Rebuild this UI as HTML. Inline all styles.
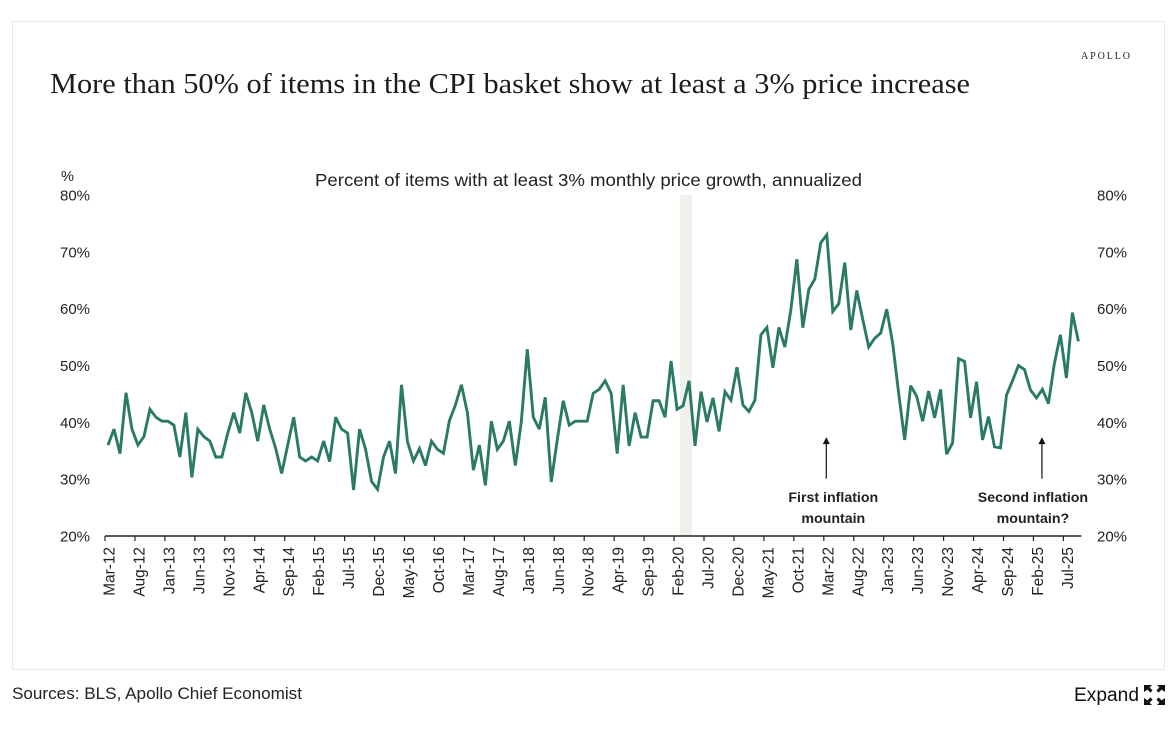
<!DOCTYPE html>
<html lang="en">
<head>
<meta charset="utf-8">
<title>More than 50% of items in the CPI basket show at least a 3% price increase</title>
<style>
html,body{margin:0;padding:0;background:#fff;width:1173px;height:730px;overflow:hidden}
svg{display:block}
text{font-family:"Liberation Sans",sans-serif;fill:#222}
.serif{font-family:"Liberation Serif",serif}
</style>
</head>
<body>
<svg id="chart" width="1173" height="730" viewBox="0 0 1173 730" xmlns="http://www.w3.org/2000/svg">
  <rect x="12.5" y="21.5" width="1152" height="648" fill="#fff" stroke="#e9e9e9"/>
  <text class="serif" x="50" y="93" font-size="29" textLength="920" lengthAdjust="spacingAndGlyphs" style="fill:#1c1c1c">More than 50% of items in the CPI basket show at least a 3% price increase</text>
  <text class="serif" x="1081" y="59" font-size="10" textLength="49" style="fill:#222">APOLLO</text>
  <text x="315" y="186" font-size="17.5" textLength="547" lengthAdjust="spacingAndGlyphs">Percent of items with at least 3% monthly price growth, annualized</text>
  <text x="61" y="181" font-size="14.5">%</text>
  <g id="plot"></g>
  <text x="12" y="699" font-size="16.5" textLength="290" lengthAdjust="spacingAndGlyphs">Sources: BLS, Apollo Chief Economist</text>
  <g style="cursor:pointer">
    <text x="1074" y="701" font-size="19" textLength="65" lengthAdjust="spacingAndGlyphs" style="fill:#111">Expand</text>
    <g fill="#111">
      <path d="M1144 685h8l-2.4 2.4 3 3-2.2 2.2-3-3-3.4 2.4z"/>
      <path d="M1165 685h-8l2.4 2.4-3 3 2.2 2.2 3-3 3.4 2.4z"/>
      <path d="M1144 705h8l-2.4-2.4 3-3-2.2-2.2-3 3-3.4-2.4z"/>
      <path d="M1165 705h-8l2.4-2.4-3-3 2.2-2.2 3 3 3.4-2.4z"/>
    </g>
  </g>
</svg>
<script>
const tickLabels = ["Mar-12","Aug-12","Jan-13","Jun-13","Nov-13","Apr-14","Sep-14","Feb-15","Jul-15","Dec-15","May-16","Oct-16","Mar-17","Aug-17","Jan-18","Jun-18","Nov-18","Apr-19","Sep-19","Feb-20","Jul-20","Dec-20","May-21","Oct-21","Mar-22","Aug-22","Jan-23","Jun-23","Nov-23","Apr-24","Sep-24","Feb-25","Jul-25"];
const yTicks = [20,30,40,50,60,70,80];
const seriesValues = [
36.0,38.8,34.5,45.2,38.8,36.0,37.5,42.3,40.9,40.2,40.2,39.5,33.9,41.7,30.3,38.8,37.5,36.7,33.9,33.9,
38.1,41.7,38.1,45.2,41.7,36.7,43.05,38.8,35.4,31.0,36.0,40.9,33.9,33.2,33.9,33.2,36.7,33.1,40.9,38.8,
38.1,28.1,38.8,35.25,29.6,28.2,33.9,36.7,31.0,46.6,36.55,33.2,35.4,32.4,36.7,35.25,34.55,40.3,43.05,46.6,
41.7,31.6,36.0,28.9,40.2,35.25,36.7,40.2,32.4,40.1,52.85,40.9,38.8,44.4,29.5,36.9,43.8,39.5,40.2,40.2,
40.2,45.1,45.8,47.3,45.1,34.5,46.6,35.85,41.7,37.4,37.4,43.8,43.8,40.9,50.8,42.3,42.9,47.3,35.85,45.4,
40.06,44.3,38.4,45.4,43.9,49.7,43.05,41.9,43.9,55.4,56.7,49.6,56.7,53.25,59.8,68.7,56.65,63.4,65.2,71.6,
73.0,59.5,60.9,68.1,56.25,63.2,58.1,53.25,54.8,55.7,59.9,53.9,45.1,36.9,46.45,44.6,40.2,45.5,40.8,45.8,
34.4,36.4,51.2,50.7,40.8,47.15,36.9,41.0,35.7,35.5,44.8,47.3,50.0,49.3,45.7,44.3,45.8,43.3,50.4,55.4,
47.8,59.3,54.25];
const tickEvery = 5;
const bandMonths = [96,98];
const annotationOne = {lines:["First inflation","mountain"], month:120, tip:37.4, base:30.1};
const annotationTwo = {lines:["Second inflation","mountain?"], month:156, tip:37.4, base:30.1};

const NS = "http://www.w3.org/2000/svg";
const plot = document.getElementById("plot");
const monthW = 5.99;
const xEdge = m => 105 + m * monthW;
const xMid = m => 108 + m * monthW;
const yVal = v => 536 - (v - 20) * (341 / 60);
function mk(tag, attrs, parent){
  const el = document.createElementNS(NS, tag);
  for (const k in attrs) el.setAttribute(k, attrs[k]);
  (parent || plot).appendChild(el);
  return el;
}

const band = mk("rect",{x:xEdge(bandMonths[0]),y:yVal(80),width:xEdge(bandMonths[1])-xEdge(bandMonths[0]),height:yVal(20)-yVal(80),fill:"#f1f1ec"});



yTicks.forEach(v => {
  const left = mk("text",{x:60,y:yVal(v)+5.5,"font-size":15});
  left.textContent = v + "%";
  
  
  const right = mk("text",{x:1097,y:yVal(v)+5.5,"font-size":15});
  right.textContent = v + "%";
  
  
});

const axis = mk("line",{x1:xEdge(0),x2:xEdge(seriesValues.length),y1:yVal(20),y2:yVal(20),stroke:"#222","stroke-width":1.6});



tickLabels.forEach((t,i) => {
  const x = xEdge(i * tickEvery);
  const tick = mk("line",{x1:x,x2:x,y1:yVal(20),y2:yVal(20)+5,stroke:"#222","stroke-width":1.2});
  
  
  const label = mk("text",{transform:"translate("+(x+9.5)+",547) rotate(-90)","font-size":15.4,"text-anchor":"end"});
  label.textContent = t;
  
  
});

const pts = seriesValues.map((v,i) => xMid(i).toFixed(2) + "," + yVal(v).toFixed(2)).join(" ");
const line = mk("polyline",{points:pts,fill:"none",stroke:"#2b7a66","stroke-width":2.9,"stroke-linejoin":"miter","stroke-miterlimit":3});



[annotationOne, annotationTwo].forEach((a,idx) => {
  const x = xMid(a.month) - 0.5;
  const shaft = mk("line",{x1:x,x2:x,y1:yVal(a.base),y2:yVal(a.tip)+6,stroke:"#111","stroke-width":1.2});
  
  
  const tipY = yVal(a.tip);
  const head = mk("polygon",{points:x+","+tipY+" "+(x-3.5)+","+(tipY+7)+" "+(x+3.5)+","+(tipY+7),fill:"#111"});
  
  
  const cx = idx === 0 ? x + 7 : x - 9;
  a.lines.forEach((s,j) => {
    const tx = mk("text",{x:cx,y:502+j*21,"text-anchor":"middle","font-size":14.2,"font-weight":"bold"});
    tx.textContent = s;
    
    
  });
});
</script>
</body>
</html>
